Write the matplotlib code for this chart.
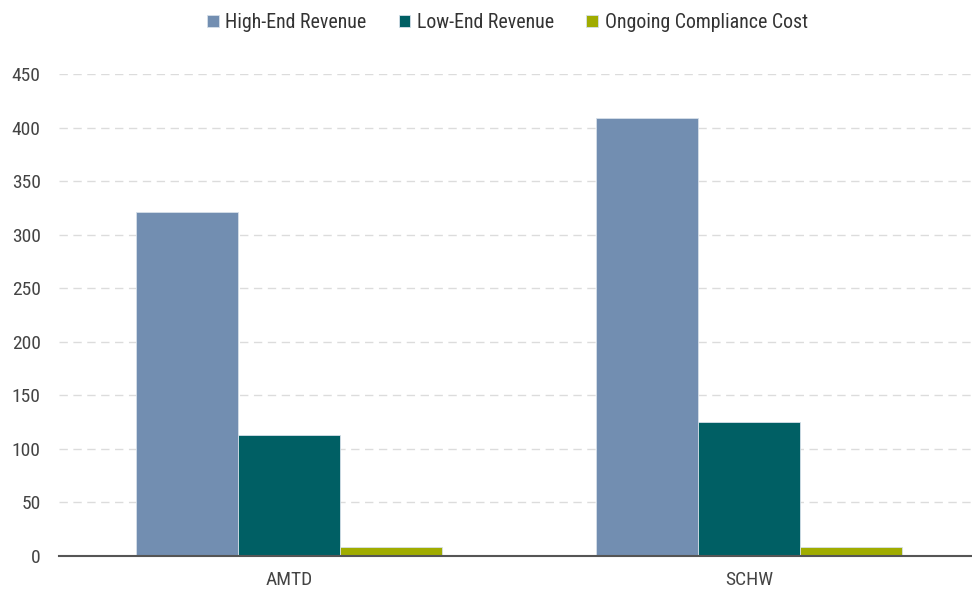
import matplotlib.pyplot as plt
import numpy as np
from matplotlib import font_manager

# fonts: condensed look if available
names = {f.name for f in font_manager.fontManager.ttflist}
family = "Roboto"
for cand in ["Roboto Condensed", "Liberation Sans Narrow", "Open Sans Condensed"]:
    if cand in names:
        family = cand
        break
plt.rcParams["font.family"] = [family, "DejaVu Sans"]

# data
categories = ["AMTD", "SCHW"]
series_names = ["High-End Revenue", "Low-End Revenue", "Ongoing Compliance Cost"]
high_end = [321, 409]
low_end = [113, 125]
compliance = [8, 8]
colors = ["#728eb1", "#005f64", "#a0ac00"]

fig = plt.figure(figsize=(9.72, 5.94), dpi=100)
ax = fig.add_axes([0.061, 0.064, 0.9465, 0.811])

x = np.arange(len(categories))
width = 0.222
for i, (vals, name, c) in enumerate(zip([high_end, low_end, compliance], series_names, colors)):
    ax.bar(x + (i - 1) * width, vals, width, color=c, label=name,
           edgecolor="#d6e0ea", linewidth=0.6, zorder=3)

ax.set_xlim(-0.5, 1.5)
ax.set_ylim(0, 450)
ax.set_yticks(np.arange(0, 451, 50))
ax.set_xticks(x)
ax.set_xticklabels(categories)
ax.yaxis.grid(True, color="#dcdcdc", linestyle=(0, (6, 4)), linewidth=1.0, zorder=0)
ax.set_axisbelow(True)

for side in ["top", "right", "left"]:
    ax.spines[side].set_visible(False)
ax.spines["bottom"].set_color("#555555")
ax.spines["bottom"].set_linewidth(1.5)
ax.spines["bottom"].set_zorder(4)
ax.tick_params(axis="y", length=0, pad=13.5, labelsize=14, labelcolor="#444444")
ax.tick_params(axis="x", length=0, pad=11, labelsize=14, labelcolor="#444444")

leg = fig.legend(loc="upper center", bbox_to_anchor=(0.522, 1.008), ncol=3,
                 frameon=False, fontsize=14.3, handlelength=0.6, handleheight=0.6,
                 handletextpad=0.35, columnspacing=1.6, labelcolor="#333333")

fig.savefig("out.png", dpi=100)
